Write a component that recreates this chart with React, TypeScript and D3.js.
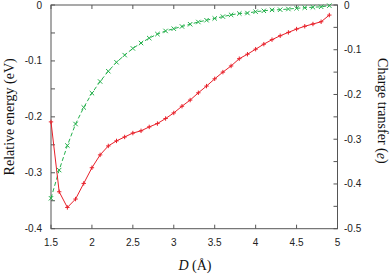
import React from "react";
import * as d3 from "d3";

const distances = [1.5,1.6,1.7,1.8,1.9,2.0,2.1,2.2,2.3,2.4,2.5,2.6,2.7,2.8,2.9,3.0,3.1,3.2,3.3,3.4,3.5,3.6,3.7,3.8,3.9,4.0,4.1,4.2,4.3,4.4,4.5,4.6,4.7,4.8,4.9];
const energy = [-0.209,-0.334,-0.362,-0.347,-0.319,-0.291,-0.268,-0.252,-0.243,-0.236,-0.229,-0.225,-0.218,-0.212,-0.203,-0.193,-0.181,-0.170,-0.157,-0.145,-0.132,-0.120,-0.109,-0.096,-0.088,-0.079,-0.070,-0.062,-0.055,-0.049,-0.043,-0.038,-0.034,-0.030,-0.018];
const charge = [-0.432,-0.369,-0.314,-0.266,-0.229,-0.197,-0.171,-0.148,-0.128,-0.112,-0.097,-0.085,-0.074,-0.065,-0.058,-0.053,-0.048,-0.043,-0.038,-0.034,-0.030,-0.026,-0.022,-0.019,-0.018,-0.015,-0.013,-0.011,-0.0105,-0.009,-0.0074,-0.006,-0.005,-0.004,-0.0015];
const xTicks = [1.5,2,2.5,3,3.5,4,4.5,5];
const yLeftTicks = [0,-0.05,-0.1,-0.15,-0.2,-0.25,-0.3,-0.35,-0.4];
const yLeftLabels = [0,-0.1,-0.2,-0.3,-0.4];
const yRightTicks = [0,-0.05,-0.1,-0.15,-0.2,-0.25,-0.3,-0.35,-0.4,-0.45,-0.5];
const yRightLabels = [0,-0.1,-0.2,-0.3,-0.4,-0.5];

const W = 391, H = 276;
const L = 51, R = 337.5, T = 5, B = 228.7;
const RED = "#e8202a";
const GREEN = "#22b04a";
const AX = "#555";

export default function App() {
  const x = d3.scaleLinear().domain([1.5, 5]).range([L, R]);
  const yL = d3.scaleLinear().domain([-0.4, 0]).range([B, T]);
  const yR = d3.scaleLinear().domain([-0.5, 0]).range([B, T]);
  const redLine = d3.line<number>().x((_, i) => x(distances[i])).y((d) => yL(d));
  const greenLine = d3.line<number>().x((_, i) => x(distances[i])).y((d) => yR(d));
  const fmt = (v: number) => (v === 0 ? "0" : String(v));
  const tl = 4;
  return (
    <div style={{ position: "fixed", left: 0, top: 0 }}>
      <svg width={W} height={H} style={{ display: "block", background: "#fff" }}>
        <g fontFamily="Liberation Sans, Arial, sans-serif" fontSize={10} fill="#222">
          {yLeftLabels.map((v) => (
            <text key={"l" + v} x={42} y={yL(v)} textAnchor="end" dominantBaseline="central">{fmt(v)}</text>
          ))}
          {yRightLabels.map((v) => (
            <text key={"r" + v} x={344} y={yR(v)} textAnchor="start" dominantBaseline="central">{fmt(v)}</text>
          ))}
          {xTicks.map((v) => (
            <text key={"x" + v} x={x(v)} y={242} textAnchor="middle" dominantBaseline="central">{fmt(v)}</text>
          ))}
        </g>
        <g stroke={AX} strokeWidth={1} fill="none">
          {yLeftTicks.map((v) => (
            <line key={"lt" + v} x1={L} x2={L + tl} y1={yL(v)} y2={yL(v)} />
          ))}
          {yRightTicks.map((v) => (
            <line key={"rt" + v} x1={R} x2={R - tl} y1={yR(v)} y2={yR(v)} />
          ))}
          {xTicks.map((v) => (
            <g key={"xt" + v}>
              <line x1={x(v)} x2={x(v)} y1={B} y2={B - tl} />
              <line x1={x(v)} x2={x(v)} y1={T} y2={T + tl} />
            </g>
          ))}
          <rect x={L} y={T} width={R - L} height={B - T} />
        </g>
        <path d={greenLine(charge) || ""} fill="none" stroke={GREEN} strokeWidth={1} strokeDasharray="4,2.5" />
        <path d={redLine(energy) || ""} fill="none" stroke={RED} strokeWidth={1} />
        <g stroke={GREEN} strokeWidth={1}>
          {charge.map((v, i) => {
            const cx = x(distances[i]), cy = yR(v), s = 2.2;
            return (
              <g key={"g" + i}>
                <line x1={cx - s} y1={cy - s} x2={cx + s} y2={cy + s} />
                <line x1={cx - s} y1={cy + s} x2={cx + s} y2={cy - s} />
              </g>
            );
          })}
        </g>
        <g stroke={RED} strokeWidth={1}>
          {energy.map((v, i) => {
            const cx = x(distances[i]), cy = yL(v), s = 2.2;
            return (
              <g key={"r" + i}>
                <line x1={cx - s} y1={cy} x2={cx + s} y2={cy} />
                <line x1={cx} y1={cy - s} x2={cx} y2={cy + s} />
              </g>
            );
          })}
        </g>
        <g fontFamily="Liberation Serif, Times New Roman, serif" fontSize={14} fill="#111">
          <text transform={`translate(9,${(T + B) / 2}) rotate(-90)`} textAnchor="middle" dominantBaseline="central">Relative energy (eV)</text>
          <text transform={`translate(382,${(T + B) / 2 - 6}) rotate(90)`} textAnchor="middle" dominantBaseline="central">
            Charge transfer (<tspan fontStyle="italic">e</tspan>)
          </text>
          <text x={195} y={265} textAnchor="middle" dominantBaseline="central">
            <tspan fontStyle="italic">D</tspan> (Å)
          </text>
        </g>
      </svg>
    </div>
  );
}
